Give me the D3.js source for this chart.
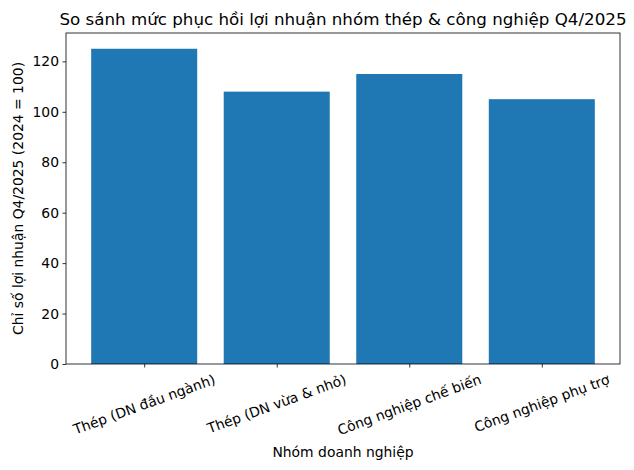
<!DOCTYPE html>
<html><head><meta charset="utf-8">
<script src="https://cdn.jsdelivr.net/npm/d3@7"></script>
<style>body{margin:0;background:#fff}svg{display:block}text{font-family:"DejaVu Sans",sans-serif;fill:#000}</style>
</head><body><svg id="c" width="634" height="470"></svg>
<script>
const categories = ["Thép (DN đầu ngành)", "Thép (DN vừa & nhỏ)", "Công nghiệp chế biến", "Công nghiệp phụ trợ"];
const values = [125, 108, 115, 105];
const yTicks = [0, 20, 40, 60, 80, 100, 120];
const title = "So sánh mức phục hồi lợi nhuận nhóm thép & công nghiệp Q4/2025";
const xTitle = "Nhóm doanh nghiệp";
const yTitle = "Chỉ số lợi nhuận Q4/2025 (2024 = 100)";

const svg = d3.select("#c");
const L = 66, R = 620, T = 33, B = 364;
const n = categories.length;
const x = d3.scaleLinear().domain([-0.59, n - 1 + 0.59]).range([L, R]);
const y = d3.scaleLinear().domain([0, d3.max(values) * 1.05]).range([B, T]);
const bw = x(0.8) - x(0);

svg.append("g").selectAll("rect").data(values).join("rect")
  .attr("x", (d, i) => x(i) - bw / 2).attr("width", bw)
  .attr("y", d => y(d)).attr("height", d => y(0) - y(d))
  .attr("fill", "#1f77b4");

// frame
svg.append("rect").attr("x", L).attr("y", T).attr("width", R - L).attr("height", B - T)
  .attr("fill", "none").attr("stroke", "#000").attr("stroke-width", 0.8);

// y axis
const yAxis = d3.axisLeft(y).tickValues(yTicks).tickSize(3.5).tickPadding(3.5).tickFormat(d3.format("d"));
const gy = svg.append("g").attr("transform", `translate(${L},0)`).call(yAxis);
gy.select(".domain").remove();
gy.selectAll("line").attr("stroke", "#000").attr("stroke-width", 0.8);
gy.selectAll("text").style("font-size", "13.9px").style("font-family", "DejaVu Sans").attr("fill", "#000");

// x axis
const xAxis = d3.axisBottom(x).tickValues(d3.range(n)).tickSize(3.5).tickFormat(() => "");
const gx = svg.append("g").attr("transform", `translate(0,${B})`).call(xAxis);
gx.select(".domain").remove();
gx.selectAll("line").attr("stroke", "#000").attr("stroke-width", 0.8);

const fs = 13.9, h = fs * 1.17, a = 20 * Math.PI / 180;
const lab = svg.append("g");
categories.forEach((c, i) => {
  const t = lab.append("text").text(c).style("font-size", fs + "px")
    .attr("text-anchor", "middle").attr("dominant-baseline", "central");
  const w = t.node().getComputedTextLength();
  const cy = B + 7 + (w * Math.sin(a) + h * Math.cos(a)) / 2;
  t.attr("transform", `translate(${x(i)},${cy}) rotate(-20)`);
});

svg.append("text").attr("x", (L + R) / 2).attr("y", 457).attr("text-anchor", "middle")
  .style("font-size", "13.9px").text(xTitle);
svg.append("text").attr("transform", `translate(23,${(T + B) / 2}) rotate(-90)`).attr("text-anchor", "middle")
  .style("font-size", "13.9px").text(yTitle);
svg.append("text").attr("x", (L + R) / 2).attr("y", 25).attr("text-anchor", "middle")
  .style("font-size", "16.7px").text(title);
</script></body></html>
